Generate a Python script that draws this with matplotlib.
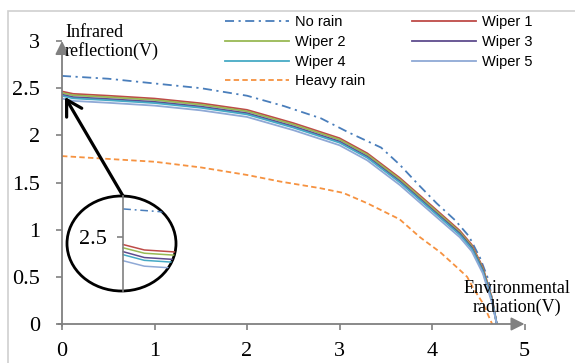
import numpy as np
import matplotlib
matplotlib.use('Agg')
import matplotlib.pyplot as plt
from matplotlib.patches import Ellipse, Rectangle
from matplotlib.lines import Line2D

# data
no_rain_x = [0, 0.5, 1.0, 1.5, 2.0, 2.4, 2.8, 3.1, 3.45, 3.65, 3.85, 4.05, 4.25, 4.4, 4.52, 4.61, 4.67, 4.7]
no_rain_y = [2.63, 2.60, 2.55, 2.50, 2.42, 2.31, 2.18, 2.03, 1.87, 1.69, 1.48, 1.28, 1.10, 0.93, 0.70, 0.47, 0.15, 0.0]

wiper_x = [0, 0.12, 0.5, 1.0, 1.5, 2.0, 2.5, 3.0, 3.3, 3.65, 4.0, 4.3, 4.43, 4.55, 4.65, 4.70]
wiper1 = [2.465, 2.44, 2.42, 2.39, 2.34, 2.27, 2.13, 1.97, 1.81, 1.55, 1.25, 0.99, 0.84, 0.60, 0.27, 0.0]
wiper2 = [2.45, 2.425, 2.405, 2.375, 2.325, 2.255, 2.115, 1.955, 1.795, 1.535, 1.235, 0.975, 0.825, 0.585, 0.26, 0.0]
wiper3 = [2.432, 2.405, 2.385, 2.355, 2.305, 2.235, 2.095, 1.935, 1.775, 1.515, 1.215, 0.96, 0.81, 0.57, 0.25, 0.0]
wiper4 = [2.418, 2.392, 2.372, 2.342, 2.292, 2.222, 2.082, 1.922, 1.762, 1.502, 1.202, 0.945, 0.795, 0.555, 0.24, 0.0]
wiper5 = [2.39, 2.365, 2.345, 2.315, 2.265, 2.195, 2.055, 1.895, 1.735, 1.475, 1.175, 0.92, 0.77, 0.535, 0.22, 0.0]

heavy_x = [0, 0.5, 1.0, 1.5, 2.0, 2.36, 2.79, 3.04, 3.3, 3.65, 3.87, 4.09, 4.27, 4.38, 4.44, 4.55, 4.65]
heavy_y = [1.78, 1.75, 1.72, 1.66, 1.58, 1.51, 1.44, 1.39, 1.28, 1.11, 0.92, 0.76, 0.60, 0.50, 0.39, 0.22, 0.0]

x_ticks = [0, 1, 2, 3, 4, 5]
y_ticks = [0, 0.5, 1, 1.5, 2, 2.5, 3]

c_norain = '#4a7ebb'
c_heavy = '#f69240'
wiper_cols = ['#be4b48', '#98b954', '#5e4c8e', '#46aac5', '#8fa9d6']
wipers = [wiper1, wiper2, wiper3, wiper4, wiper5]

serif = 'Liberation Serif'
sans = 'Liberation Sans'
gray = '#808080'
dashdot = (0, (5, 2.5, 1.2, 2.5))
dashed = (0, (3, 1.8))

W, H = 575, 363
fig = plt.figure(figsize=(W / 100, H / 100), dpi=100)

def px(x0, y0, w, h):
  # pixel box (from top-left) -> figure fraction
  return [x0 / W, 1 - (y0 + h) / H, w / W, h / H]

# light frame around the picture
fig.patches.append(Rectangle((8 / W, -0.1), 1.2, 1 - 11 / H + 0.1, transform=fig.transFigure,
                             fill=False, ec='#cfcfcf', lw=1.2))

ax = fig.add_axes(px(62, 41, 462.5, 283))
ax.set_xlim(0, 5)
ax.set_ylim(0, 3)
for s in ax.spines.values():
  s.set_visible(False)

ax.plot(no_rain_x, no_rain_y, color=c_norain, lw=1.3, ls=dashdot)
for i in range(5):
  ax.plot(wiper_x, wipers[i], color=wiper_cols[i], lw=1.3)
ax.plot(heavy_x, heavy_y, color=c_heavy, lw=1.3, ls=dashed)

# axes with arrow heads
arrow = dict(arrowstyle='-|>', color=gray, lw=1.3, mutation_scale=20, shrinkA=0, shrinkB=0)
ax.annotate('', xy=(5, 0), xytext=(-0.04, 0), arrowprops=arrow, annotation_clip=False)
ax.annotate('', xy=(0, 3), xytext=(0, -0.02), arrowprops=arrow, annotation_clip=False)

ax.set_xticks(x_ticks)
ax.set_yticks(y_ticks)
ax.set_xticklabels([str(t) for t in x_ticks])
ax.set_yticklabels(['0', '0.5', '1', '1.5', '2', '2.5', '3'])
ax.tick_params(direction='out', color=gray, width=1.2, length=4, labelsize=16)
ax.tick_params(axis='x', pad=9)
ax.tick_params(axis='y', pad=12)
for lab in ax.get_xticklabels() + ax.get_yticklabels():
  lab.set_fontfamily(serif)

fig.text(65 / W, 1 - 24 / H, 'Infrared\nreflection(V)', fontfamily=serif, fontsize=13,
         ha='left', va='top', linespacing=1.1)
fig.text(517 / W, 1 - 298 / H, 'Environmental\nradiation(V)', fontfamily=serif, fontsize=13,
         ha='center', va='center', linespacing=1.1)

# legend
handles = [Line2D([], [], color=c_norain, lw=1.3, ls=dashdot),
           Line2D([], [], color=wiper_cols[1], lw=1.3),
           Line2D([], [], color=wiper_cols[3], lw=1.3),
           Line2D([], [], color=c_heavy, lw=1.3, ls=dashed),
           Line2D([], [], color=wiper_cols[0], lw=1.3),
           Line2D([], [], color=wiper_cols[2], lw=1.3),
           Line2D([], [], color=wiper_cols[4], lw=1.3)]
labels = ['No rain', 'Wiper 2', 'Wiper 4', 'Heavy rain', 'Wiper 1', 'Wiper 3', 'Wiper 5']
fig.legend(handles, labels, loc='upper left', bbox_to_anchor=(225 / W, 1 - 15 / H), ncol=2,
           frameon=False, prop={'family': sans, 'size': 10.5}, handlelength=4.4,
           handletextpad=0.4, columnspacing=3.2, labelspacing=0.4, borderpad=0, borderaxespad=0)

# magnifier
ins = fig.add_axes(px(67, 196, 109, 95))
ins.set_xlim(-0.32, 0.3)
ins.set_ylim(2.25, 2.69)
ins.patch.set_alpha(0)
for s in ['top', 'right', 'bottom']:
  ins.spines[s].set_visible(False)
ins.spines['left'].set_position(('data', 0))
ins.spines['left'].set_color(gray)
ins.spines['left'].set_linewidth(1.2)
ins.set_xticks([])
ins.set_yticks([2.5])
ins.set_yticklabels(['2.5'], fontfamily=serif, fontsize=16)
ins.tick_params(axis='y', direction='out', color=gray, width=1.2, length=4, pad=8)
ell = Ellipse((0.5, 0.5), 1, 1, transform=ins.transAxes, fill=False, ec='black', lw=2)
ins.add_patch(ell)
ell.set_clip_on(False)
ins.plot(no_rain_x, no_rain_y, color=c_norain, lw=1.1, ls=dashdot, clip_path=ell)
for i in range(5):
  ins.plot(wiper_x, wipers[i], color=wiper_cols[i], lw=1.1, clip_path=ell)

ax.annotate('', xy=(65, H - 97), xytext=(123, H - 196), xycoords='figure pixels',
            textcoords='figure pixels',
            arrowprops=dict(arrowstyle='->,head_length=0.6,head_width=0.35', color='black', lw=2.3,
                            mutation_scale=18, shrinkA=0, shrinkB=0))

fig.savefig('out.png', dpi=100)
